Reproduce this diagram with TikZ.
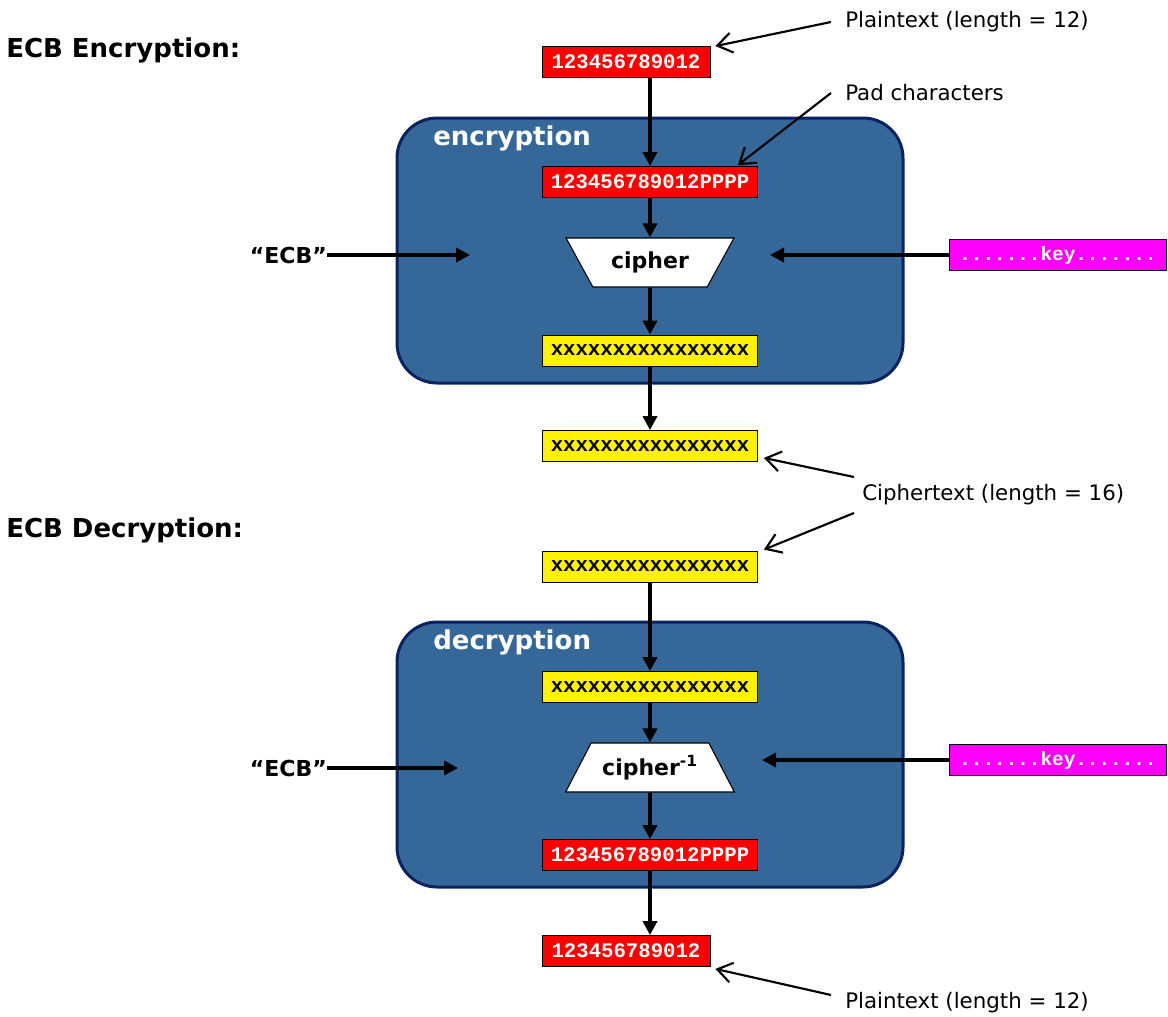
\documentclass[tikz,border=0pt]{standalone}
\usepackage{fontspec}
\setmainfont{DejaVu Sans}
\setmonofont{Liberation Mono}
\usetikzlibrary{arrows.meta,positioning,shapes.geometric,calc}
\definecolor{stageblue}{RGB}{53,103,153}
\definecolor{stageedge}{RGB}{10,34,96}
\definecolor{keypink}{RGB}{255,0,255}

\begin{document}
\begin{tikzpicture}[x=0.75pt, y=-0.75pt,
    % caixas de texto (mono, bold)
        txtbox/.style={rectangle, draw=black, line width=0.6pt, inner sep=0pt, minimum height=23.25pt, font=\fontsize{15.5}{17}\selectfont\ttfamily\bfseries},
        ptbox/.style={txtbox, fill=red, text=white},
        ctbox/.style={txtbox, fill=yellow, text=black},
        keybox/.style={txtbox, fill=keypink, text=white, minimum width=162.75pt, font=\fontsize{14.5}{16}\selectfont\ttfamily\bfseries},
    % caixa azul de cada etapa
        stage/.style={rectangle, draw=stageedge, fill=stageblue, line width=2.25pt, rounded corners=30pt, minimum width=379.5pt, minimum height=198.75pt},
        stagelbl/.style={anchor=west, inner sep=0pt, text=white, font=\fontsize{19.5}{22}\selectfont\bfseries},
        cipher/.style={trapezium, draw=black, fill=white, line width=0.8pt, trapezium stretches=true, trapezium angle=49.4, minimum width=126.75pt, minimum height=36.75pt, inner sep=0pt, font=\fontsize{16.5}{18}\selectfont\bfseries},
        title/.style={anchor=west, inner sep=0pt, font=\fontsize{19.5}{22}\selectfont\bfseries},
        lbl/.style={anchor=west, inner sep=0pt, font=\fontsize{16}{18}\selectfont},
        mode/.style={anchor=east, inner sep=0pt, font=\fontsize{16.5}{18}\selectfont\bfseries},
        arrow/.style={-{Triangle[length=10.5pt,width=10.5pt]}, line width=2.8pt},
        callout/.style={-{Straight Barb[length=11pt,width=15pt]}, line width=1.6pt}
    ]
    \useasboundingbox (0,0) rectangle (1168,1017);

    % --- ENCRYPTION ---
    \node[title] (enctitle) at (6,50) {ECB Encryption:};
    \node[ptbox, minimum width=126pt] (pt1) at (626,62) {123456789012};
    \node[lbl] (plainlbl1) at (845,22) {Plaintext (length = 12)};

    \node[stage] (encstage) at (650,250.5) {};
    \node[stagelbl] (enclbl) at (433,138) {encryption};

    \node[ptbox, minimum width=161.25pt] (pad1) at (650,182) {123456789012PPPP};
    \node[lbl] (padlbl) at (845,93) {Pad characters};
    \node[cipher, shape border rotate=180] (ciph1) at (650,262.5) {cipher};
    \node[ctbox, minimum width=161.25pt] (ct1) at (650,350.5) {xxxxxxxxxxxxxxxx};
    \node[ctbox, minimum width=161.25pt] (ct2) at (650,446) {xxxxxxxxxxxxxxxx};

    \node[mode] (ecb1) at (327,255) {“ECB”};
    \coordinate (encin) at (470,255);
    \node[keybox] (key1) at (1058,255) {.......key.......};
    \coordinate (enckey) at (770,255);

    \node[lbl] (cilbl) at (862,495) {Ciphertext (length = 16)};

    % --- DECRYPTION ---
    \node[title] (dectitle) at (6,530) {ECB Decryption:};
    \node[ctbox, minimum width=161.25pt] (ct3) at (650,566.5) {xxxxxxxxxxxxxxxx};

    \node[stage] (decstage) at (650,754.5) {};
    \node[stagelbl] (declbl) at (433,642) {decryption};

    \node[ctbox, minimum width=161.25pt] (ct4) at (650,687) {xxxxxxxxxxxxxxxx};
    \node[cipher] (ciph2) at (650,767.5) {cipher\textsuperscript{-1}};
    \node[ptbox, minimum width=161.25pt] (pad2) at (650,855) {123456789012PPPP};
    \node[ptbox, minimum width=126pt] (pt2) at (626,951) {123456789012};

    \node[mode] (ecb2) at (327,768) {“ECB”};
    \coordinate (decin) at (458,768);
    \node[keybox] (key2) at (1058,760) {.......key.......};
    \coordinate (deckey) at (762,760);

    \node[lbl] (plainlbl2) at (845,1003) {Plaintext (length = 12)};

    % --- LIGACOES ---
    \draw[arrow] (pt1.south -| pad1.north) -- (pad1.north);
    \draw[arrow] (pad1) -- (ciph1);
    \draw[arrow] (ciph1) -- (ct1);
    \draw[arrow] (ct1) -- (ct2);
    \draw[arrow] (ecb1) -- (encin);
    \draw[arrow] (key1) -- (enckey);

    \draw[arrow] (ct3) -- (ct4);
    \draw[arrow] (ct4) -- (ciph2);
    \draw[arrow] (ciph2) -- (pad2);
    \draw[arrow] (pad2.south) -- (pad2.south |- pt2.north);
    \draw[arrow] (ecb2) -- (decin);
    \draw[arrow] (key2) -- (deckey);

    % --- CHAMADAS ---
    \draw[callout] ($(plainlbl1.west)+(-14,0)$) -- ($(pt1.north east)+(5,0)$);
    \draw[callout] ($(padlbl.west)+(-14,0)$) -- ($(pad1.north east)+(-20,-1)$);
    \draw[callout] ($(cilbl.west)+(-8,-18)$) -- ($(ct2.south east)+(6,-4)$);
    \draw[callout] ($(cilbl.west)+(-8,18)$) -- ($(ct3.north east)+(6,-1)$);
    \draw[callout] ($(plainlbl2.west)+(-14,-8)$) -- ($(pt2.south east)+(5,2)$);
\end{tikzpicture}
\end{document}
